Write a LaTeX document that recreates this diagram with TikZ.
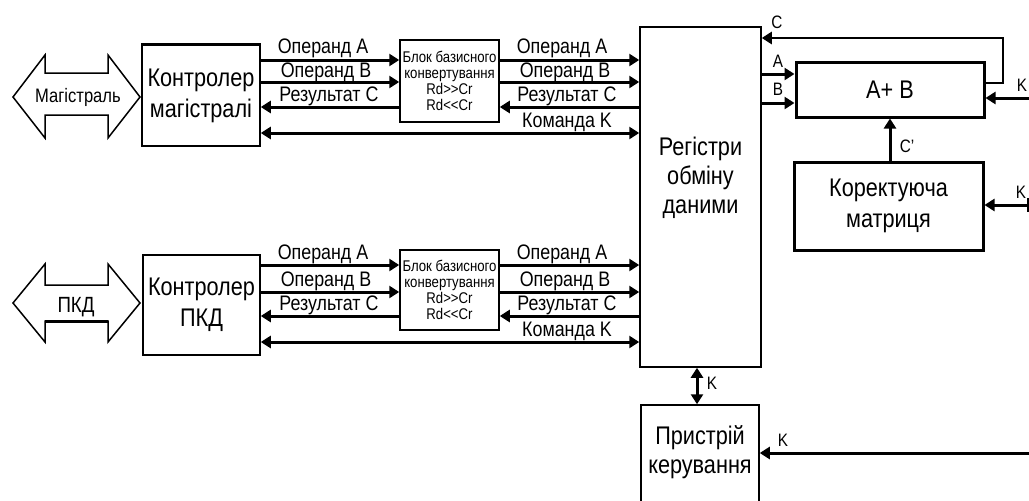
\documentclass[tikz,border=0pt]{standalone}
\usepackage{fontspec}
\setmainfont[FakeStretch=0.85]{Liberation Sans}
\usetikzlibrary{arrows.meta}
\begin{document}
\begin{tikzpicture}[x=1pt,y=-1pt,
 box/.style={draw,line width=1.5pt,inner sep=0pt,align=center,font=\fontsize{25.5}{31}\selectfont},
 thickbox/.style={box,line width=3pt},
 blk/.style={box,font=\fontsize{15.5}{16}\selectfont},
 tip/.tip={Triangle[length=10pt,width=12pt]},
 sig/.style={line width=3pt,-tip},
 bi/.style={line width=3pt,tip-tip},
 lbl/.style={anchor=base,inner sep=0pt,font=\fontsize{21}{24}\selectfont},
 sm/.style={inner sep=0pt,font=\fontsize{18}{20}\selectfont},
 bus/.style={draw,line width=1.5pt,line join=miter}]

\clip (0,0) rectangle (1029,501);

% boxes
\node[box,minimum width=118pt,minimum height=101pt] (ctl1) at (201,95.5) {Контролер\\магістралі};
\node[blk,minimum width=99pt,minimum height=82pt] (blk1) at (449.5,81) {Блок базисного\\конвертування\\Rd>{}>Cr\\Rd<{}<Cr};
\node[box,minimum width=117pt,minimum height=100pt] (ctl2) at (201.5,305) {Контролер\\ПКД};
\node[blk,minimum width=99pt,minimum height=80pt] (blk2) at (449.5,290) {Блок базисного\\конвертування\\Rd>{}>Cr\\Rd<{}<Cr};
\node[box,minimum width=121pt,minimum height=340pt] (reg) at (700.5,197) {};
\node[inner sep=0pt,align=center,font=\fontsize{25.5}{29}\selectfont] (regtxt) at (700.5,178) {Регістри\\обміну\\даними};
\node[thickbox,minimum width=188pt,minimum height=55pt] (sum) at (890,89.5) {A+ B};
\node[thickbox,minimum width=189pt,minimum height=88pt] (kor) at (888.5,206) {Коректуюча\\матриця};
\node[box,minimum width=118pt,minimum height=102pt] (pr) at (700,456) {};
\node[inner sep=0pt,align=center,font=\fontsize{25.5}{29}\selectfont] (prtxt) at (700,452) {Пристрій\\керування};

\draw[line width=3.5pt] (ctl1.north west) -- (ctl1.north east);

% bus arrows
\draw[bus] (13,97) -- (45,55) -- (45,73) -- (108,73) -- (108,55) -- (140,97) -- (108,138) -- (108,115) -- (45,115) -- (45,138) -- cycle;
\node[inner sep=0pt,font=\fontsize{19.5}{20}\selectfont] (mag) at (78,97) {Магістраль};
\draw[bus] (13,303) -- (45,264) -- (45,285) -- (108,285) -- (108,264) -- (140,303) -- (108,342) -- (108,321) -- (45,321) -- (45,342) -- cycle;
\draw[line width=3pt] (45,321) -- (108,321);
\node[inner sep=0pt,font=\fontsize{22}{24}\selectfont] (pkd) at (76,307) {ПКД};

% upper channel
\draw[sig] (ctl1.east |- 0,60) -- (blk1.west |- 0,60);
\draw[sig] (ctl1.east |- 0,82) -- (blk1.west |- 0,82);
\draw[sig] (blk1.west |- 0,107) -- (ctl1.east |- 0,107);
\draw[bi] (ctl1.east |- 0,133) -- (reg.west |- 0,133);
\draw[sig] (blk1.east |- 0,60) -- (reg.west |- 0,60);
\draw[sig] (blk1.east |- 0,82) -- (reg.west |- 0,82);
\draw[sig] (reg.west |- 0,107) -- (blk1.east |- 0,107);
\node[lbl] (la1) at (323,53) {Операнд A};
\node[lbl] (lb1) at (326,77) {Операнд B};
\node[lbl] (lc1) at (329,101) {Результат C};
\node[lbl] (ra1) at (562,53) {Операнд A};
\node[lbl] (rb1) at (565,77) {Операнд B};
\node[lbl] (rc1) at (567,101) {Результат C};
\node[lbl] (rk1) at (567,127) {Команда K};

% lower channel
\draw[sig] (ctl2.east |- 0,265) -- (blk2.west |- 0,265);
\draw[sig] (ctl2.east |- 0,292) -- (blk2.west |- 0,292);
\draw[sig] (blk2.west |- 0,316) -- (ctl2.east |- 0,316);
\draw[bi] (ctl2.east |- 0,342) -- (reg.west |- 0,342);
\draw[sig] (blk2.east |- 0,265) -- (reg.west |- 0,265);
\draw[sig] (blk2.east |- 0,292) -- (reg.west |- 0,292);
\draw[sig] (reg.west |- 0,316) -- (blk2.east |- 0,316);
\node[lbl] (la2) at (323,259) {Операнд A};
\node[lbl] (lb2) at (326,286) {Операнд B};
\node[lbl] (lc2) at (329,310) {Результат C};
\node[lbl] (ra2) at (562,259) {Операнд A};
\node[lbl] (rb2) at (565,286) {Операнд B};
\node[lbl] (rc2) at (567,310) {Результат C};
\node[lbl] (rk2) at (567,336) {Команда K};

% adder
\draw[sig] (reg.east |- 0,74) -- (sum.west |- 0,74);
\draw[sig] (reg.east |- 0,103) -- (sum.west |- 0,103);
\coordinate (fb1) at (1003,83);
\coordinate (fb2) at (1003,38);
\draw[sig,line width=2.5pt] (sum.east |- fb1) -- (fb1) -- (fb2) -- (reg.east |- fb2);
\coordinate (kin1) at (1040,98);
\draw[sig] (kin1) -- (sum.east |- kin1);
\draw[sig] (sum.south |- kor.north) -- (sum.south);
\coordinate (kin2) at (1040,205);
\draw[sig] (kin2) -- (kor.east |- kin2);
\draw[line width=1.5pt] (1028,198) -- (1028,212);
\node[sm] (lC) at (777,22) {C};
\node[sm] (lA) at (778,61) {A};
\node[sm] (lB) at (778,89) {B};
\node[sm] (lK1) at (1022,85) {K};
\node[sm] (lCp) at (907,146) {C’};
\node[sm] (lK2) at (1021,192) {K};

% control
\coordinate (kx) at (697,0);
\draw[bi] (reg.south -| kx) -- (pr.north -| kx);
\coordinate (kin3) at (1040,453);
\draw[sig] (kin3) -- (pr.east |- kin3);
\node[sm] (lK3) at (712,383) {K};
\node[sm] (lK4) at (783,440) {K};
\end{tikzpicture}
\end{document}
